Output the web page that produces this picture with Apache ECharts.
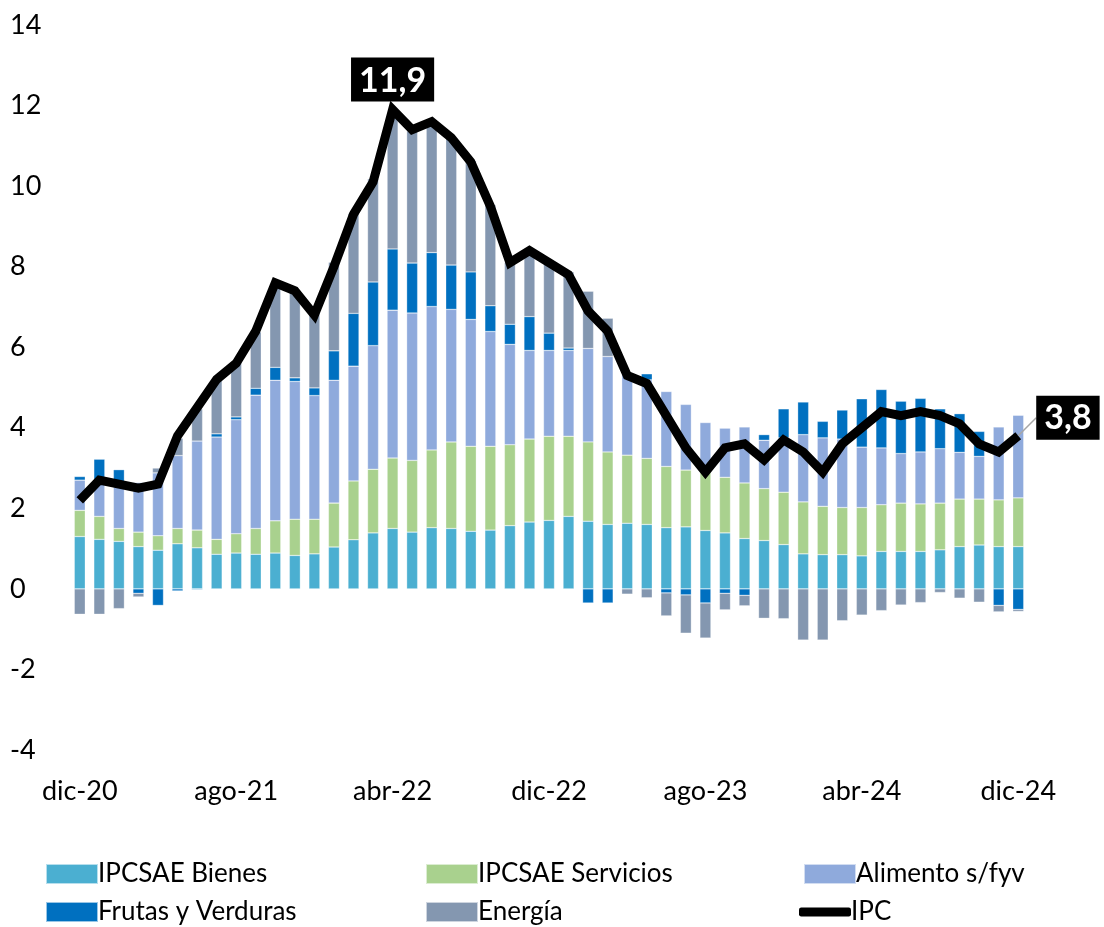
<!DOCTYPE html>
<html>
<head>
<meta charset="utf-8">
<script src="https://cdn.jsdelivr.net/npm/echarts@6/dist/echarts.min.js"></script>
<style>
  html, body { margin: 0; padding: 0; background: #fff; }
</style>
</head>
<body>
<div id="chart" style="width:1104px;height:927px"></div>
<script>
// meses dic-20 .. dic-24
var meses = [
  'dic-20','ene-21','feb-21','mar-21','abr-21','may-21','jun-21','jul-21','ago-21','sep-21','oct-21','nov-21',
  'dic-21','ene-22','feb-22','mar-22','abr-22','may-22','jun-22','jul-22','ago-22','sep-22','oct-22','nov-22',
  'dic-22','ene-23','feb-23','mar-23','abr-23','may-23','jun-23','jul-23','ago-23','sep-23','oct-23','nov-23',
  'dic-23','ene-24','feb-24','mar-24','abr-24','may-24','jun-24','jul-24','ago-24','sep-24','oct-24','nov-24',
  'dic-24'
];

var bienes = [1.30,1.23,1.18,1.05,0.96,1.12,1.02,0.86,0.89,0.86,0.89,0.83,
  0.87,1.04,1.22,1.39,1.50,1.41,1.52,1.50,1.43,1.46,1.57,1.66,
  1.70,1.80,1.68,1.60,1.63,1.60,1.52,1.54,1.45,1.39,1.25,1.20,
  1.10,0.87,0.85,0.85,0.82,0.93,0.93,0.93,0.97,1.05,1.09,1.05,1.05];

var servicios = [0.65,0.57,0.32,0.36,0.36,0.38,0.44,0.37,0.48,0.64,0.80,0.90,
  0.86,1.09,1.46,1.58,1.75,1.78,1.93,2.15,2.11,2.08,2.01,2.06,
  2.09,1.99,1.97,1.80,1.69,1.64,1.52,1.41,1.46,1.38,1.38,1.29,
  1.30,1.29,1.20,1.17,1.20,1.16,1.20,1.18,1.16,1.18,1.14,1.16,1.21];

var alimentos = [0.75,0.85,1.14,1.23,1.56,1.81,2.21,2.54,2.83,3.31,3.49,3.42,
  3.07,3.05,2.85,3.07,3.67,3.66,3.56,3.29,3.15,2.85,2.49,2.20,
  2.13,2.13,2.32,2.37,2.00,1.95,1.86,1.63,1.22,1.22,1.39,1.20,
  1.35,1.67,1.70,1.70,1.50,1.41,1.23,1.29,1.35,1.16,1.06,1.81,2.05];

var frutas = [0.09,0.57,0.32,-0.11,-0.41,-0.05,-0.02,0.08,0.07,0.17,0.32,0.09,
  0.19,0.73,1.31,1.58,1.52,1.24,1.34,1.10,1.18,0.64,0.50,0.84,
  0.43,0.06,-0.35,-0.35,0,0.15,-0.10,-0.15,-0.35,-0.11,-0.16,0.14,
  0.72,0.81,0.41,0.72,1.20,1.45,1.30,1.33,0.99,0.96,0.62,-0.41,-0.51];

var energia = [-0.63,-0.63,-0.49,-0.09,0.12,0.43,0.80,1.34,1.36,1.40,2.06,2.13,
  1.88,2.20,2.48,2.56,3.28,3.28,3.24,3.15,2.76,2.51,1.54,1.56,
  1.75,1.89,1.42,0.95,-0.13,-0.22,-0.57,-0.95,-0.87,-0.41,-0.26,-0.73,
  -0.74,-1.27,-1.27,-0.79,-0.65,-0.54,-0.40,-0.34,-0.09,-0.23,-0.33,-0.16,-0.05];

var ipc = [2.2,2.7,2.6,2.5,2.6,3.8,4.5,5.2,5.6,6.4,7.6,7.4,
  6.8,8.0,9.3,10.1,11.9,11.4,11.6,11.2,10.6,9.5,8.1,8.4,
  8.1,7.8,6.9,6.4,5.3,5.1,4.3,3.5,2.9,3.5,3.6,3.2,
  3.7,3.4,2.9,3.6,4.0,4.4,4.3,4.4,4.3,4.1,3.6,3.4,3.8];

// puntos del IPC con etiqueta
var pico = 16;
var ultimo = 48;

var fuente = 'Lato, "Open Sans", sans-serif';

var chart = echarts.init(document.getElementById('chart'));

function barra(nombre, datos, color) {
  return {
    name: nombre,
    type: 'bar',
    stack: 'total',
    barWidth: 11,
    itemStyle: { color: color, borderColor: 'rgba(255,255,255,0.6)', borderWidth: 0.5 },
    data: datos
  };
}

// una leyenda por item para fijar la grilla 3x2
function leyenda(nombre, left, top, linea) {
  var l = {
    left: left,
    top: top,
    itemWidth: 52,
    itemHeight: 20,
    itemGap: 0,
    icon: 'rect',
    textStyle: { fontSize: 26, color: '#000', fontFamily: fuente, padding: [0, 0, 0, -5] },
    data: [nombre]
  };
  if (linea) {
    l.itemHeight = 9;
    l.data = [{ name: nombre, icon: 'roundRect', itemStyle: { color: '#000' } }];
  }
  return l;
}

var ipcData = ipc.map(function (v, i) {
  if (i === pico) {
    return { value: v, label: { show: true, position: 'top', distance: 8 } };
  }
  if (i === ultimo) {
    return { value: v, label: { show: true, position: 'right', distance: 10 }, labelLine: { show: true } };
  }
  return v;
});

chart.setOption({
  animation: false,
  textStyle: { fontFamily: fuente },
  grid: { left: 70, top: 25, width: 958, height: 725, containLabel: false },
  legend: [
    leyenda('IPCSAE Bienes', 40, 856),
    leyenda('IPCSAE Servicios', 420, 856),
    leyenda('Alimento s/fyv', 798, 856),
    leyenda('Frutas y Verduras', 40, 894),
    leyenda('Energía', 420, 894),
    leyenda('IPC', 794, 894, true)
  ],
  xAxis: {
    type: 'category',
    data: meses,
    axisLine: { show: false },
    axisTick: { show: false },
    axisLabel: { interval: 7, margin: 28, fontSize: 27, color: '#000', fontFamily: fuente }
  },
  yAxis: {
    type: 'value',
    min: -4,
    max: 14,
    interval: 2,
    splitLine: { show: false },
    axisLine: { show: false },
    axisTick: { show: false },
    axisLabel: { align: 'left', margin: 60, fontSize: 27, color: '#000', fontFamily: fuente }
  },
  series: [
    barra('IPCSAE Bienes', bienes, '#4bafd1'),
    barra('IPCSAE Servicios', servicios, '#a9d18e'),
    barra('Alimento s/fyv', alimentos, '#8faadc'),
    barra('Frutas y Verduras', frutas, '#0070c0'),
    barra('Energía', energia, '#8497b0'),
    {
      name: 'IPC',
      type: 'line',
      z: 5,
      symbol: 'circle',
      symbolSize: 0,
      showSymbol: true,
      lineStyle: { color: '#000', width: 9, join: 'miter' },
      itemStyle: { color: '#000' },
      label: {
        show: false,
        formatter: function (p) { return String(p.value).replace('.', ','); },
        backgroundColor: '#000',
        color: '#fff',
        fontWeight: 'bold',
        fontSize: 34,
        fontFamily: fuente,
        padding: [6, 8, 4, 8]
      },
      labelLine: { lineStyle: { color: '#a6a6a6', width: 1.5 } },
      labelLayout: function (p) {
        if (p.dataIndex === ultimo) {
          return { dx: 8, dy: -18 };
        }
      },
      data: ipcData
    }
  ]
});
</script>
</body>
</html>
